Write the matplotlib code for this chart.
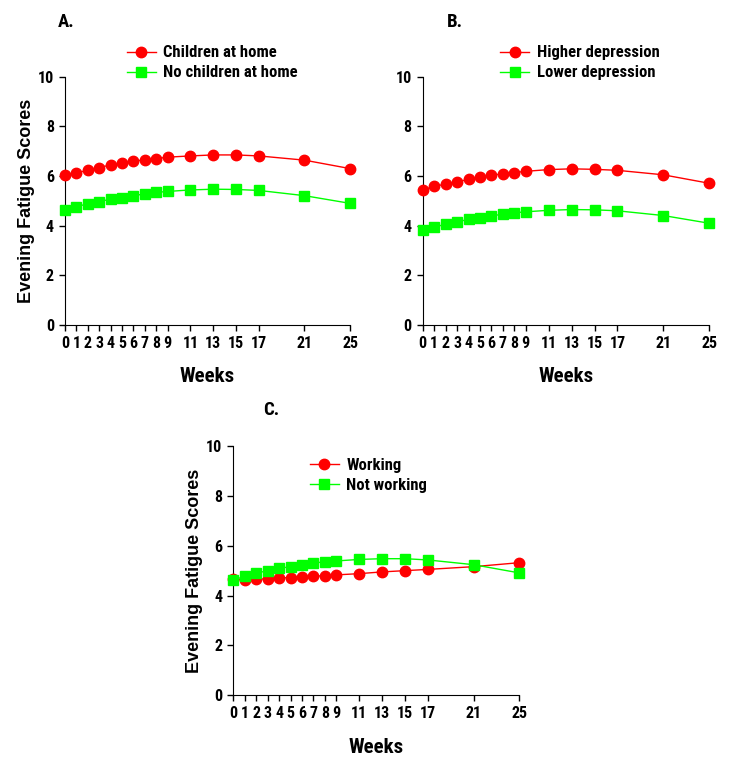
import matplotlib
matplotlib.use("Agg")
import matplotlib.pyplot as plt

# weeks since start
weeks = [0, 1, 2, 3, 4, 5, 6, 7, 8, 9, 11, 13, 15, 17, 21, 25]

# A. children at home
children_home = [6.03, 6.13, 6.23, 6.34, 6.45, 6.51, 6.60, 6.65, 6.70, 6.76, 6.81, 6.85, 6.85, 6.81, 6.64, 6.30]
no_children_home = [4.64, 4.77, 4.88, 4.97, 5.07, 5.13, 5.21, 5.28, 5.34, 5.38, 5.44, 5.47, 5.46, 5.42, 5.21, 4.90]

# B. depression
higher_dep = [5.44, 5.58, 5.68, 5.76, 5.87, 5.96, 6.03, 6.09, 6.14, 6.19, 6.26, 6.29, 6.27, 6.23, 6.05, 5.71]
lower_dep = [3.83, 3.94, 4.06, 4.16, 4.25, 4.33, 4.40, 4.46, 4.52, 4.56, 4.62, 4.65, 4.64, 4.60, 4.41, 4.10]

# C. employment
working = [4.65, 4.63, 4.65, 4.68, 4.71, 4.72, 4.75, 4.77, 4.80, 4.83, 4.88, 4.95, 5.00, 5.05, 5.16, 5.32]
not_working = [4.63, 4.77, 4.91, 4.99, 5.09, 5.16, 5.24, 5.31, 5.35, 5.39, 5.45, 5.48, 5.48, 5.43, 5.24, 4.91]

yticks = [0, 2, 4, 6, 8, 10]

NARROW = ["Roboto Condensed", "DejaVu Sans"]
WIDE = ["Liberation Sans", "DejaVu Sans"]
RED = "#ff0000"
GREEN = "#00ff00"

fig = plt.figure(figsize=(7.34, 7.58), dpi=100)


def panel(rect, tag, tag_xy, s1, s2, lab1, lab2, leg_anchor, show_ylabel=True):
    ax = fig.add_axes(rect)
    ax.plot(weeks, s1, color=RED, lw=1, marker="o", ms=7.5, clip_on=False, zorder=3, label=lab1)
    ax.plot(weeks, s2, color=GREEN, lw=1, marker="s", ms=6.5, clip_on=False, zorder=3, label=lab2)
    ax.set_xlim(0, 25)
    ax.set_ylim(0, 10)
    ax.set_xticks(weeks)
    ax.set_yticks(yticks)
    for side in ("top", "right"):
        ax.spines[side].set_visible(False)
    ax.tick_params(direction="out", length=4, width=1, pad=4)
    for t in ax.get_xticklabels() + ax.get_yticklabels():
        t.set_fontfamily(NARROW)
        t.set_fontweight("bold")
        t.set_fontsize(11.5)
    ax.set_xlabel("Weeks", fontfamily=NARROW, fontweight="bold", fontsize=15)
    ax.xaxis.set_label_coords(0.5, -0.17)
    if show_ylabel:
        ax.set_ylabel("Evening Fatigue Scores", fontfamily=WIDE, fontweight="bold", fontsize=13)
        ax.yaxis.set_label_coords(-0.105, 0.5)
    ax.legend(loc="upper left", bbox_to_anchor=leg_anchor, frameon=False,
              handlelength=1.75, handletextpad=0.45, labelspacing=0.3, borderpad=0.3,
              prop={"family": NARROW, "weight": "bold", "size": 12})
    fig.text(tag_xy[0], tag_xy[1], tag, fontfamily=NARROW, fontweight="bold", fontsize=13.5,
             ha="left", va="center")
    return ax


panel([0.0886, 0.5712, 0.3883, 0.3276], "A.", (0.079, 0.971),
      children_home, no_children_home, "Children at home", "No children at home", (0.17, 1.18))
panel([0.5759, 0.5712, 0.3901, 0.3276], "B.", (0.609, 0.971),
      higher_dep, lower_dep, "Higher depression", "Lower depression", (0.224, 1.18), show_ylabel=False)
panel([0.3179, 0.0827, 0.3896, 0.3289], "C.", (0.358, 0.459),
      working, not_working, "Working", "Not working", (0.22, 1.005))

fig.savefig("out.png", dpi=100)
